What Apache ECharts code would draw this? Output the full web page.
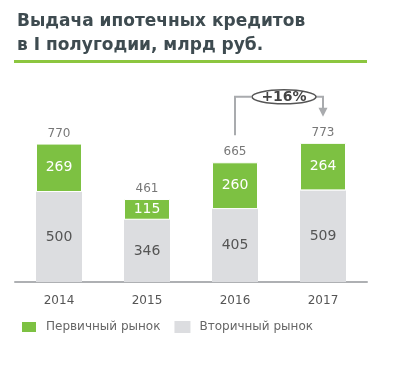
<!DOCTYPE html>
<html><head><meta charset="utf-8">
<script src="https://cdn.jsdelivr.net/npm/echarts@6/dist/echarts.min.js"></script>
<style>html,body{margin:0;padding:0;background:#fff}#c{width:400px;height:366px}</style>
</head><body><div id="c"></div>
<script>
var titleText = 'Выдача ипотечных кредитов\nв I полугодии, млрд руб.';
var years = ['2014', '2015', '2016', '2017'];
var secondary = [500, 346, 405, 509];
var primary = [269, 115, 260, 264];
var totals = [770, 461, 665, 773];
var seriesNames = ['Первичный рынок', 'Вторичный рынок'];
var growthFrom = '2016', growthTo = '2017', growthText = '+16%';

var chart = echarts.init(document.getElementById('c'), null, {renderer: 'canvas'});
var font = '"DejaVu Sans"';
chart.setOption({
  animation: false,
  backgroundColor: '#fff',
  title: {
    text: titleText, left: 12, top: 5,
    textStyle: {fontFamily: font, fontSize: 17, fontWeight: 'bold', color: '#3e4b50', lineHeight: 24}
  },
  grid: {left: 15, right: 33, top: 102, bottom: 84},
  xAxis: {
    type: 'category', data: years,
    axisLine: {lineStyle: {color: '#aeb0b3', width: 2}},
    axisTick: {show: false},
    axisLabel: {color: '#555', fontFamily: font, fontSize: 12, margin: 13}
  },
  yAxis: {type: 'value', min: 0, max: 1000, show: false, splitLine: {show: false}},
  legend: {
    data: seriesNames, left: 20, top: 320, padding: 0, itemWidth: 16, itemHeight: 12, itemGap: 14,
    icon: 'rect', textStyle: {color: '#666', fontFamily: font, fontSize: 12, padding: [0, 0, 0, 4]}
  },
  series: [
    {name: seriesNames[1], type: 'bar', stack: 's', barWidth: 46, data: secondary,
     itemStyle: {color: '#dcdde0'},
     label: {show: true, position: 'inside', color: '#555', fontFamily: font, fontSize: 14}},
    {name: seriesNames[0], type: 'bar', stack: 's', barWidth: 46, data: primary,
     itemStyle: {color: '#7dc142', borderColor: '#fff', borderWidth: 1},
     label: {show: true, position: 'inside', color: '#fff', fontFamily: font, fontSize: 14}},
    {name: 'total', type: 'scatter', data: totals, symbolSize: 0, silent: true,
     label: {show: true, position: 'top', distance: 4, color: '#555', fontFamily: font, fontSize: 12,
       formatter: function (p) { return p.value; }}}
  ]
});

var a = chart.convertToPixel({seriesIndex: 0}, [growthFrom, totals[years.indexOf(growthFrom)]]);
var b = chart.convertToPixel({seriesIndex: 0}, [growthTo, totals[years.indexOf(growthTo)]]);
var level = Math.min(a[1], b[1]) - 46;
var cx = (a[0] + b[0]) / 2 + 5;
var lineC = '#a9abae';
chart.setOption({
  graphic: [
    {type: 'rect', shape: {x: 14, y: 60, width: 353, height: 3}, style: {fill: '#8cc63f'}},
    {type: 'polyline', shape: {points: [[a[0], a[1] - 27], [a[0], level], [cx - 33, level]]},
     style: {stroke: lineC, lineWidth: 2, fill: null}},
    {type: 'polyline', shape: {points: [[cx + 28, level], [b[0], level], [b[0], b[1] - 34]]},
     style: {stroke: lineC, lineWidth: 2, fill: null}},
    {type: 'polygon', shape: {points: [[b[0] - 4.5, b[1] - 35], [b[0] + 4.5, b[1] - 35], [b[0], b[1] - 26]]},
     style: {fill: lineC}},
    {type: 'ellipse', shape: {cx: cx, cy: level, rx: 32, ry: 7},
     style: {stroke: '#555', lineWidth: 1.5, fill: '#fff'}},
    {type: 'text', x: cx, y: level, style: {text: growthText, fill: '#444', font: 'bold 14px "DejaVu Sans"',
     align: 'center', verticalAlign: 'middle'}}
  ]
});
</script></body></html>
